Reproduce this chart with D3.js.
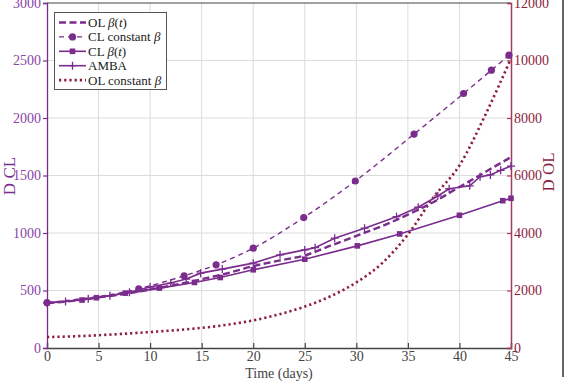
<!DOCTYPE html>
<html><head><meta charset="utf-8">
<script src="https://cdn.jsdelivr.net/npm/d3@7"></script>
<style>body{margin:0;background:#fff}svg{display:block}</style>
</head><body>
<svg id="c" width="579" height="388"></svg>
<script>
// ---- data ----
const xTicks = [0,5,10,15,20,25,30,35,40,45];
const yLeftTicks = [0,500,1000,1500,2000,2500,3000];
const yRightTicks = [0,2000,4000,6000,8000,10000,12000];

const olBetaT_days = [0,2.5,5,7.5,10,12.5,15,17.5,20,22.5,25,27.5,30,32.5,35,37.5,40,42.5,45];
const olBetaT_vals = [390,410,440,470,508,550,598,650,712,760,805,890,975,1060,1160,1270,1400,1530,1660];

const clConst_days = [0,8.9,13.3,16.4,20,24.9,29.9,35.6,40.4,43.1,44.8];
const clConst_vals = [395,515,628,723,868,1134,1452,1860,2213,2416,2546];

const clBetaT_days = [0,3.4,4.8,7.6,10.9,14.3,16.8,20,25,30.1,34.2,40,44.2,45];
const clBetaT_vals = [392,417,437,477,521,570,613,680,772,888,992,1154,1281,1302];

const amba_days = [0,1.8,4,6.1,8,10,12,13.5,14.9,17,20,22.6,25,26,27.9,30.8,33.9,36,37.9,39,41,42,43,44,45];
const amba_vals = [390,405,428,454,485,530,565,600,651,686,738,810,853,872,955,1042,1142,1224,1322,1385,1410,1490,1505,1545,1582];

const olConst_days = [0,2.5,5,7.5,10,12.5,15,17.5,20,22.5,25,27.5,30,32.5,35,37.5,40,42.5,45];
const olConst_vals = [380,405,445,495,555,620,700,810,960,1170,1440,1800,2280,2950,3950,5250,6350,8100,10070];

const legendLabels = ["OL β(t)","CL constant β","CL β(t)","AMBA","OL constant β"];

// ---- drawing ----
const PURPLE = "#7b2d8e", PURPLE_TXT = "#8a45a5", RED = "#8c1d40", RED_AX = "#a43a5c", GRAY = "#444";
const FONT = "'Liberation Serif', 'DejaVu Serif', serif";
const svg = d3.select("#c");
const x = d3.scaleLinear().domain([0,45]).range([47,511]);
const yL = d3.scaleLinear().domain([0,3000]).range([348,3]);
const yR = d3.scaleLinear().domain([0,12000]).range([348,3]);

// grid
svg.append("g").selectAll("line").data(xTicks.slice(1,-1)).join("line")
  .attr("x1",d=>x(d)).attr("x2",d=>x(d)).attr("y1",yL(0)).attr("y2",yL(3000))
  .attr("stroke","#dcdcdc").attr("stroke-width",1);
svg.append("g").selectAll("line").data(yLeftTicks.slice(1,-1)).join("line")
  .attr("x1",x(0)).attr("x2",x(45)).attr("y1",d=>yL(d)).attr("y2",d=>yL(d))
  .attr("stroke","#dcdcdc").attr("stroke-width",1);

// top border
svg.append("line").attr("x1",x(0)).attr("x2",x(45)).attr("y1",yL(3000)).attr("y2",yL(3000))
  .attr("stroke",GRAY).attr("stroke-width",1.2);
// outer frame line on right
svg.append("line").attr("x1",563).attr("x2",563).attr("y1",0).attr("y2",377)
  .attr("stroke","#333").attr("stroke-width",1.5);

// axes
const gx = svg.append("g").attr("transform",`translate(0,${yL(0)})`)
  .call(d3.axisBottom(x).tickValues(xTicks).tickSize(-5).tickPadding(3).tickFormat(d3.format("d")));
gx.select(".domain").attr("stroke",GRAY).attr("stroke-width",1.3);
gx.selectAll(".tick line").attr("stroke",GRAY).attr("stroke-width",1.2);
gx.selectAll("text").attr("fill",GRAY).style("font-family",FONT).style("font-size","14px");

const gl = svg.append("g").attr("transform",`translate(${x(0)},0)`)
  .call(d3.axisLeft(yL).tickValues(yLeftTicks).tickSize(4).tickPadding(2).tickFormat(d3.format("d")));
gl.select(".domain").attr("stroke",PURPLE).attr("stroke-width",1.3);
gl.selectAll(".tick line").attr("stroke",PURPLE).attr("stroke-width",1.2);
gl.selectAll("text").attr("fill",PURPLE_TXT).style("font-family",FONT).style("font-size","14px");

const gr = svg.append("g").attr("transform",`translate(${x(45)},0)`)
  .call(d3.axisRight(yR).tickValues(yRightTicks).tickSize(-4).tickPadding(3).tickFormat(d3.format("d")));
gr.select(".domain").attr("stroke",RED_AX).attr("stroke-width",1.5);
gr.selectAll(".tick line").attr("stroke",RED_AX).attr("stroke-width",1.2);
gr.selectAll("text").attr("fill",RED).style("font-family",FONT).style("font-size","14px");

// axis titles
svg.append("text").attr("transform",`translate(15,176) rotate(-90)`).attr("text-anchor","middle")
  .attr("fill",PURPLE).style("font-family",FONT).style("font-size","17px").text("D CL");
svg.append("text").attr("transform",`translate(554,172) rotate(-90)`).attr("text-anchor","middle")
  .attr("fill",RED).style("font-family",FONT).style("font-size","17px").text("D OL");
svg.append("text").attr("x",279).attr("y",378).attr("text-anchor","middle")
  .attr("fill",GRAY).style("font-family",FONT).style("font-size","14px").text("Time (days)");

// series
const zip = (a,b)=>a.map((d,i)=>[d,b[i]]);
const lineL = d3.line().x(d=>x(d[0])).y(d=>yL(d[1]));
const lineLc = d3.line().x(d=>x(d[0])).y(d=>yL(d[1])).curve(d3.curveMonotoneX);
const lineRc = d3.line().x(d=>x(d[0])).y(d=>yR(d[1])).curve(d3.curveMonotoneX);

const plot = svg.append("g");
// OL constant beta
plot.append("path").attr("d",lineRc(zip(olConst_days,olConst_vals))).attr("fill","none")
  .attr("stroke",RED).attr("stroke-width",2.6).attr("stroke-dasharray","2.2,3");
// CL beta(t)
const clb = zip(clBetaT_days,clBetaT_vals);
plot.append("path").attr("d",lineL(clb)).attr("fill","none").attr("stroke",PURPLE).attr("stroke-width",1.6);
plot.selectAll(".sq").data(clb).join("rect").attr("x",d=>x(d[0])-2.8).attr("y",d=>yL(d[1])-2.8)
  .attr("width",5.6).attr("height",5.6).attr("fill",PURPLE);
// AMBA
const am = zip(amba_days,amba_vals);
plot.append("path").attr("d",lineL(am)).attr("fill","none").attr("stroke",PURPLE).attr("stroke-width",1.6);
plot.selectAll(".pl").data(am).join("path")
  .attr("d",d=>`M${x(d[0])-4},${yL(d[1])}h8M${x(d[0])},${yL(d[1])-4}v8`)
  .attr("stroke",PURPLE).attr("stroke-width",1.3);
// OL beta(t)
plot.append("path").attr("d",lineLc(zip(olBetaT_days,olBetaT_vals))).attr("fill","none")
  .attr("stroke",PURPLE).attr("stroke-width",2.4).attr("stroke-dasharray","7,3.5");
// CL constant beta
const clc = zip(clConst_days,clConst_vals);
plot.append("path").attr("d",lineLc(clc)).attr("fill","none").attr("stroke",PURPLE)
  .attr("stroke-width",1.4).attr("stroke-dasharray","5,4");
plot.selectAll(".ci").data(clc).join("circle").attr("cx",d=>x(d[0])).attr("cy",d=>yL(d[1]))
  .attr("r",3.6).attr("fill",PURPLE);

// legend
const lg = svg.append("g");
lg.append("rect").attr("x",54.5).attr("y",12.5).attr("width",112).attr("height",77)
  .attr("fill","#fff").attr("stroke","#555").attr("stroke-width",1);
const ly = i => 22.5 + i*14.4;
const lx1 = 59, lx2 = 86;
legendLabels.forEach((lab,i)=>{
  const yy = ly(i);
  const g = lg.append("g");
  if(i===0){
    g.append("line").attr("x1",lx1).attr("x2",lx2).attr("y1",yy).attr("y2",yy)
      .attr("stroke",PURPLE).attr("stroke-width",2.4).attr("stroke-dasharray","7,3.5");
  } else if(i===1){
    g.append("line").attr("x1",lx1).attr("x2",lx2).attr("y1",yy).attr("y2",yy)
      .attr("stroke",PURPLE).attr("stroke-width",1.4).attr("stroke-dasharray","5,4");
    g.append("circle").attr("cx",(lx1+lx2)/2).attr("cy",yy).attr("r",3.6).attr("fill",PURPLE);
  } else if(i===2){
    g.append("line").attr("x1",lx1).attr("x2",lx2).attr("y1",yy).attr("y2",yy)
      .attr("stroke",PURPLE).attr("stroke-width",1.6);
    g.append("rect").attr("x",(lx1+lx2)/2-2.8).attr("y",yy-2.8).attr("width",5.6).attr("height",5.6).attr("fill",PURPLE);
  } else if(i===3){
    g.append("line").attr("x1",lx1).attr("x2",lx2).attr("y1",yy).attr("y2",yy)
      .attr("stroke",PURPLE).attr("stroke-width",1.6);
    const cx=(lx1+lx2)/2;
    g.append("path").attr("d",`M${cx-4},${yy}h8M${cx},${yy-4}v8`).attr("stroke",PURPLE).attr("stroke-width",1.3);
  } else {
    g.append("line").attr("x1",lx1).attr("x2",lx2).attr("y1",yy).attr("y2",yy)
      .attr("stroke",RED).attr("stroke-width",2.6).attr("stroke-dasharray","2.2,3");
  }
  const t = g.append("text").attr("x",88).attr("y",yy+4.5).attr("fill","#222")
    .style("font-family",FONT).style("font-size","13px");
  if(i===0){ t.append("tspan").text("OL "); t.append("tspan").attr("font-style","italic").text("β"); t.append("tspan").text("("); t.append("tspan").attr("font-style","italic").text("t"); t.append("tspan").text(")"); }
  else if(i===1){ t.append("tspan").text("CL constant "); t.append("tspan").attr("font-style","italic").text("β"); }
  else if(i===2){ t.append("tspan").text("CL "); t.append("tspan").attr("font-style","italic").text("β"); t.append("tspan").text("("); t.append("tspan").attr("font-style","italic").text("t"); t.append("tspan").text(")"); }
  else if(i===3){ t.text("AMBA"); }
  else { t.append("tspan").text("OL constant "); t.append("tspan").attr("font-style","italic").text("β"); }
});
</script>
</body></html>
